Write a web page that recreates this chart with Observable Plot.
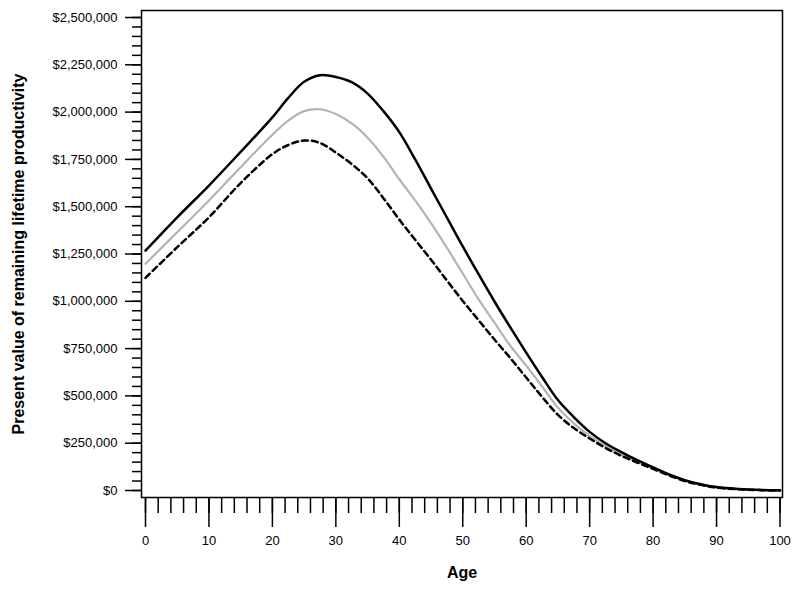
<!DOCTYPE html>
<html>
<head>
<meta charset="utf-8">
<script src="https://cdn.jsdelivr.net/npm/d3@7"></script>
<script src="https://cdn.jsdelivr.net/npm/@observablehq/plot@0.6"></script>
<style>
  html, body { margin: 0; padding: 0; background: #fff; }
  #chart svg { font-family: "Liberation Sans", Arial, Helvetica, sans-serif; }
</style>
</head>
<body>
<div id="chart"></div>
<script>
// Ages (years)
const ages = [0, 5, 10, 15, 20, 22.5, 25, 27.5, 30, 32.5, 35, 37.5, 40, 42.5, 45, 47.5, 50, 52.5, 55, 57.5, 60, 62.5, 65, 67.5, 70, 72.5, 75, 77.5, 80, 82.5, 85, 87.5, 90, 95, 100];
// Present value of remaining lifetime productivity (USD)
const solidSeries = [1268000, 1444000, 1612000, 1790000, 1972000, 2075000, 2160000, 2195000, 2186000, 2158000, 2098000, 2005000, 1894000, 1750000, 1596000, 1443000, 1290000, 1143000, 999000, 862000, 729000, 600000, 478000, 388000, 310000, 250000, 203000, 160000, 122000, 85000, 55000, 33000, 18000, 5000, 1000];
const graySeries  = [1198000, 1365000, 1533000, 1709000, 1880000, 1955000, 2005000, 2015000, 1990000, 1940000, 1865000, 1765000, 1645000, 1533000, 1413000, 1283000, 1147000, 1010000, 887000, 765000, 660000, 550000, 438000, 355000, 288000, 235000, 190000, 153000, 118000, 82000, 52000, 31000, 16000, 4000, 1000];
const dashedSeries = [1124000, 1286000, 1444000, 1625000, 1778000, 1826000, 1850000, 1837000, 1786000, 1725000, 1650000, 1545000, 1432000, 1325000, 1220000, 1110000, 1002000, 900000, 798000, 700000, 597000, 495000, 400000, 330000, 275000, 225000, 183000, 148000, 114000, 80000, 50000, 30000, 15000, 4000, 0];

const yMajorTicks = [0, 250000, 500000, 750000, 1000000, 1250000, 1500000, 1750000, 2000000, 2250000, 2500000];
const xMajorTicks = [0, 10, 20, 30, 40, 50, 60, 70, 80, 90, 100];
const yTitle = "Present value of remaining lifetime productivity";
const xTitle = "Age";

const toRows = (vals) => ages.map((a, i) => ({age: a, value: vals[i]}));
const yMinorTicks = d3.range(0, 2500001, 50000);
const xMinorTicks = d3.range(0, 101, 2);
const money = d => "$" + d3.format(",")(d);

const chart = Plot.plot({
  width: 800,
  height: 592,
  marginLeft: 141,
  marginRight: 18,
  marginTop: 10,
  marginBottom: 95,
  insetLeft: 4,
  insetRight: 2.5,
  insetTop: 7,
  insetBottom: 7,
  style: {fontSize: "13px"},
  x: {domain: [0, 100]},
  y: {domain: [0, 2500000]},
  marks: [
    Plot.axisY(yMinorTicks, {anchor: "left", tickSize: 9, tickFormat: () => "", strokeWidth: 1.5, label: null}),
    Plot.axisY(yMajorTicks, {anchor: "left", tickSize: 16, tickPadding: 8, tickFormat: money, fontSize: 13, strokeWidth: 1.5, label: null}),
    Plot.axisX(xMinorTicks, {anchor: "bottom", tickSize: 16, tickFormat: () => "", strokeWidth: 1.5, label: null}),
    Plot.axisX(xMajorTicks, {anchor: "bottom", tickSize: 30, tickPadding: 8, fontSize: 13, strokeWidth: 1.5, label: null}),
    Plot.frame({stroke: "black", strokeWidth: 1.5}),
    Plot.line(toRows(graySeries), {x: "age", y: "value", stroke: "#b3b3b3", strokeWidth: 2.2, curve: "catmull-rom"}),
    Plot.line(toRows(dashedSeries), {x: "age", y: "value", stroke: "black", strokeWidth: 2.5, strokeDasharray: "6,4", curve: "catmull-rom"}),
    Plot.line(toRows(solidSeries), {x: "age", y: "value", stroke: "black", strokeWidth: 2.5, curve: "catmull-rom"}),
    Plot.text([yTitle], {frameAnchor: "left", textAnchor: "middle", rotate: -90, dx: -123, fontSize: 16, fontWeight: "bold", fill: "black"}),
    Plot.text([xTitle], {frameAnchor: "bottom", textAnchor: "middle", dy: 80, fontSize: 16, fontWeight: "bold", fill: "black"})
  ]
});
document.getElementById("chart").appendChild(chart);
</script>
</body>
</html>
